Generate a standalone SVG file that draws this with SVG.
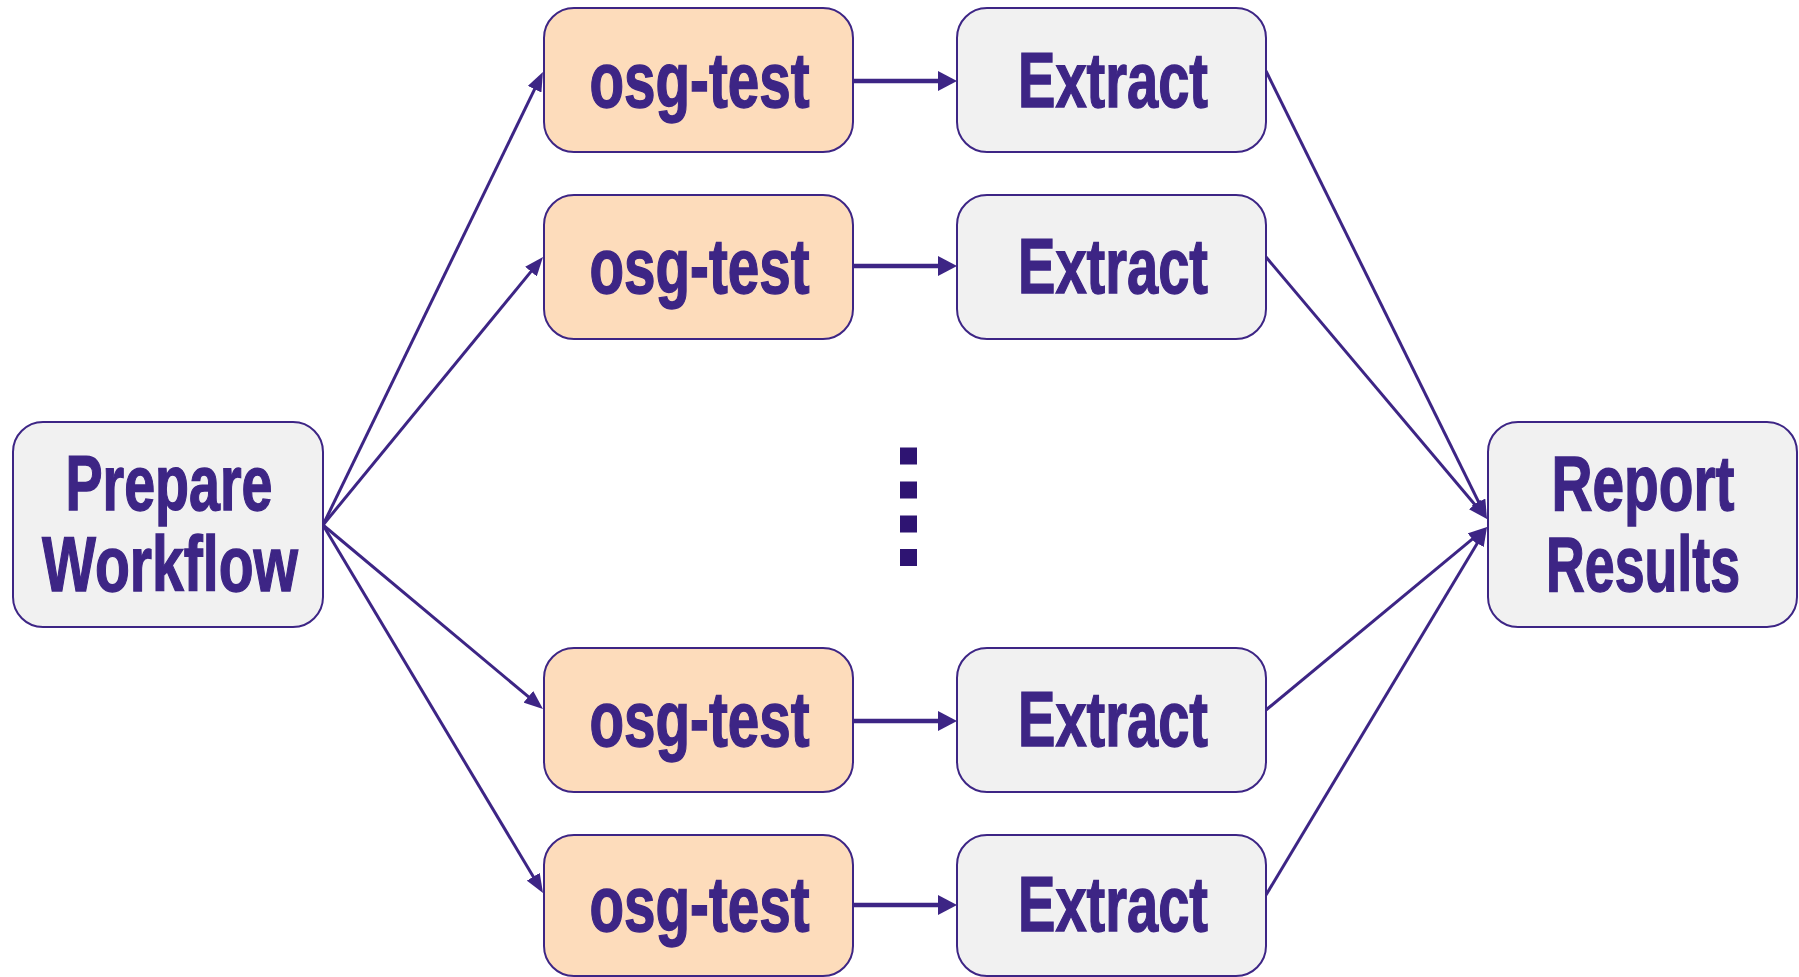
<svg xmlns="http://www.w3.org/2000/svg" width="1799" height="977" viewBox="0 0 1799 977">
<defs>
<style>
.box{stroke:#3d2585;stroke-width:2}
.test{fill:#fddcbb}
.grey{fill:#f1f1f1}
.lbl{font-family:"Liberation Sans Narrow","Liberation Sans",Arial,sans-serif;font-weight:bold;font-size:78px;fill:#3d2585;stroke:#3d2585;stroke-width:1.4;text-anchor:middle}
.edge{stroke:#3d2585;stroke-width:3;fill:none}
.h{stroke:#3d2585;stroke-width:4.5;fill:none}
</style>
<marker id="ah" markerUnits="userSpaceOnUse" markerWidth="19" markerHeight="15" refX="10" refY="7.5" orient="auto" viewBox="0 0 19 15">
<path d="M0,0 L19,7.5 L0,15 z" fill="#3d2585"/>
</marker>
<marker id="ahh" markerUnits="userSpaceOnUse" markerWidth="19" markerHeight="20" refX="10" refY="10" orient="auto" viewBox="0 0 19 20">
<path d="M0,0 L19,10 L0,20 z" fill="#3d2585"/>
</marker>
</defs>
<rect width="1799" height="977" fill="#ffffff"/>

<g id="connectors">
<line class="edge" x1="323" y1="525" x2="539" y2="80.2" marker-end="url(#ah)"/>
<line class="edge" x1="323" y1="525" x2="537.3" y2="263.9" marker-end="url(#ah)"/>
<line class="edge" x1="323" y1="525" x2="536.1" y2="703.2" marker-end="url(#ah)"/>
<line class="edge" x1="323" y1="525" x2="538.4" y2="885.3" marker-end="url(#ah)"/>
<line class="h" x1="853" y1="81" x2="948" y2="81" marker-end="url(#ahh)"/>
<line class="h" x1="853" y1="266" x2="948" y2="266" marker-end="url(#ahh)"/>
<line class="h" x1="853" y1="721" x2="948" y2="721" marker-end="url(#ahh)"/>
<line class="h" x1="853" y1="905" x2="948" y2="905" marker-end="url(#ahh)"/>
<line class="edge" x1="1266" y1="71" x2="1483" y2="510.9" marker-end="url(#ah)"/>
<line class="edge" x1="1266" y1="257" x2="1481.2" y2="512.1" marker-end="url(#ah)"/>
<line class="edge" x1="1266" y1="710" x2="1480.1" y2="532.7" marker-end="url(#ah)"/>
<line class="edge" x1="1266" y1="895" x2="1482.4" y2="534.7" marker-end="url(#ah)"/>
</g>

<g id="prepare">
<rect class="box grey" x="13" y="422" width="310" height="205" rx="30"/>
<text class="lbl" x="169" y="510" textLength="207" lengthAdjust="spacingAndGlyphs">Prepare</text>
<text class="lbl" x="170" y="591" textLength="256" lengthAdjust="spacingAndGlyphs">Workflow</text>
</g>

<g id="test1">
<rect class="box test" x="544" y="8" width="309" height="144" rx="30"/>
<text class="lbl" x="699.5" y="106.5" textLength="220" lengthAdjust="spacingAndGlyphs">osg-test</text>
</g>
<g id="test2">
<rect class="box test" x="544" y="195" width="309" height="144" rx="30"/>
<text class="lbl" x="699.5" y="292.5" textLength="220" lengthAdjust="spacingAndGlyphs">osg-test</text>
</g>
<g id="test3">
<rect class="box test" x="544" y="648" width="309" height="144" rx="30"/>
<text class="lbl" x="699.5" y="745.5" textLength="220" lengthAdjust="spacingAndGlyphs">osg-test</text>
</g>
<g id="test4">
<rect class="box test" x="544" y="835" width="309" height="141" rx="30"/>
<text class="lbl" x="699.5" y="931" textLength="220" lengthAdjust="spacingAndGlyphs">osg-test</text>
</g>

<g id="extract1">
<rect class="box grey" x="957" y="8" width="309" height="144" rx="30"/>
<text class="lbl" x="1113" y="106.5" textLength="190" lengthAdjust="spacingAndGlyphs">Extract</text>
</g>
<g id="extract2">
<rect class="box grey" x="957" y="195" width="309" height="144" rx="30"/>
<text class="lbl" x="1113" y="292.5" textLength="190" lengthAdjust="spacingAndGlyphs">Extract</text>
</g>
<g id="extract3">
<rect class="box grey" x="957" y="648" width="309" height="144" rx="30"/>
<text class="lbl" x="1113" y="745.5" textLength="190" lengthAdjust="spacingAndGlyphs">Extract</text>
</g>
<g id="extract4">
<rect class="box grey" x="957" y="835" width="309" height="141" rx="30"/>
<text class="lbl" x="1113" y="931" textLength="190" lengthAdjust="spacingAndGlyphs">Extract</text>
</g>

<g id="report">
<rect class="box grey" x="1488" y="422" width="309" height="205" rx="30"/>
<text class="lbl" x="1643" y="510" textLength="183" lengthAdjust="spacingAndGlyphs">Report</text>
<text class="lbl" x="1643" y="591" textLength="194" lengthAdjust="spacingAndGlyphs">Results</text>
</g>

<g id="ellipsis" fill="#2e1472">
<rect x="900" y="447.5" width="17" height="17"/>
<rect x="900" y="481.5" width="17" height="17"/>
<rect x="900" y="515.5" width="17" height="17"/>
<rect x="900" y="549" width="17" height="17"/>
</g>
</svg>
